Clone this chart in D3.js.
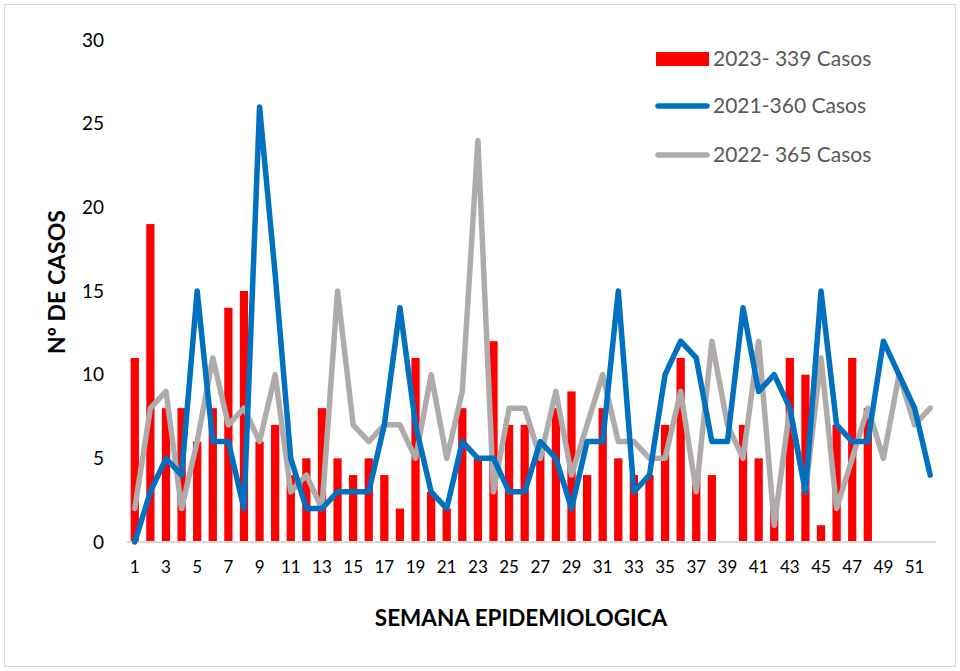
<!DOCTYPE html>
<html><head><meta charset="utf-8">
<script src="https://cdn.jsdelivr.net/npm/d3@7"></script>
<style>
body{margin:0;background:#fff;}
svg text{font-family:Lato,"Open Sans",sans-serif;}
</style></head>
<body>
<svg id="chart" width="960" height="671"></svg>
<script>
const weeks = d3.range(1, 53);
const tickLabels = d3.range(1, 52, 2);
const cases2023 = [11,19,8,8,6,8,14,15,6,7, 4,5,8,5,4,5,4,2,11,3, 2,8,5,12,7,7,6,8,9,4, 8,5,4,4,7,11,4,4,0,7, 5,2,11,10,1,7,11,8];
const cases2021 = [0,3,5,4,15,6,6,2,26,16, 5,2,2,3,3,3,7,14,7,3, 2,6,5,5,3,3,6,5,2,6, 6,15,3,4,10,12,11,6,6,14, 9,10,8,3,15,7,6,6,12,10, 8,4];
const cases2022 = [2,8,9,2,6,11,7,8,6,10, 3,4,2,15,7,6,7,7,5,10, 5,9,24,3,8,8,5,9,4,7, 10,6,6,5,5,9,3,12,7,5, 12,1,8,3,11,2,5,8,5,10, 7,8];
const legendLabels = ["2023- 339 Casos", "2021-360 Casos", "2022- 365 Casos"];
const colors = {c2023:"#ff0000", c2021:"#0070c0", c2022:"#afabab"};

const svg = d3.select("#chart");
svg.append("rect").attr("x",4.5).attr("y",4.5).attr("width",951).attr("height",662)
  .attr("fill","#fff").attr("stroke","#d9d9d9");

const x = d3.scaleBand().domain(weeks).range([127, 938]).paddingInner(0.47).paddingOuter(0.235);
const xc = d => x(d) + x.bandwidth()/2;
const y = d3.scaleLinear().domain([0, 30]).range([542, 40]);

// y axis labels
const yAxis = d3.axisLeft(y).tickValues([0,5,10,15,20,25,30]).tickSize(0).tickPadding(0);
const gy = svg.append("g").attr("transform","translate(104,0)").call(yAxis);
gy.select(".domain").remove();
gy.selectAll("text").attr("font-size",19).attr("fill","#000").attr("font-family","Lato,sans-serif");

// bars
svg.append("g").selectAll("rect").data(cases2023).join("rect")
  .attr("x",(d,i)=>x(weeks[i])).attr("width",x.bandwidth())
  .attr("y",d=>y(d)).attr("height",d=>y(0)-y(d)).attr("fill",colors.c2023);

// x axis
const xAxis = d3.axisBottom(x).tickValues(tickLabels).tickSize(0).tickPadding(19);
const gx = svg.append("g").attr("transform",`translate(0,${y(0)})`).call(xAxis);
gx.select(".domain").attr("stroke","#d9d9d9").attr("stroke-width",2).attr("d","M127,0H936");
gx.selectAll("text").attr("font-size",17).attr("fill","#000").attr("font-family","Lato,sans-serif");

// lines
const line = d3.line().x((d,i)=>xc(weeks[i])).y(d=>y(d));
svg.append("path").datum(cases2022).attr("d",line).attr("fill","none")
  .attr("stroke",colors.c2022).attr("stroke-width",5.5).attr("stroke-linejoin","round").attr("stroke-linecap","round");
svg.append("path").datum(cases2021).attr("d",line).attr("fill","none")
  .attr("stroke",colors.c2021).attr("stroke-width",5.5).attr("stroke-linejoin","round").attr("stroke-linecap","round");

// axis titles
svg.append("text").attr("x",521).attr("y",626).attr("text-anchor","middle")
  .attr("font-size",22.5).attr("font-weight","bold").attr("fill","#000").text("SEMANA EPIDEMIOLOGICA");
svg.append("text").attr("transform","translate(65,282) rotate(-90)").attr("text-anchor","middle")
  .attr("font-size",23).attr("font-weight","bold").attr("fill","#000").text("Nº DE CASOS");

// legend
const lg = svg.append("g");
const ly = [59, 106, 155];
lg.append("rect").attr("x",656).attr("y",ly[0]-7).attr("width",53).attr("height",14).attr("fill",colors.c2023);
lg.append("line").attr("x1",658).attr("x2",707).attr("y1",ly[1]).attr("y2",ly[1])
  .attr("stroke",colors.c2021).attr("stroke-width",5.5).attr("stroke-linecap","round");
lg.append("line").attr("x1",658).attr("x2",707).attr("y1",ly[2]).attr("y2",ly[2])
  .attr("stroke",colors.c2022).attr("stroke-width",5.5).attr("stroke-linecap","round");
lg.selectAll("text.leg").data(legendLabels).join("text").attr("class","leg")
  .attr("x",713).attr("y",(d,i)=>ly[i]).attr("dy","0.35em")
  .attr("font-size",21).attr("fill","#595959").text(d=>d);
</script>
</body></html>
